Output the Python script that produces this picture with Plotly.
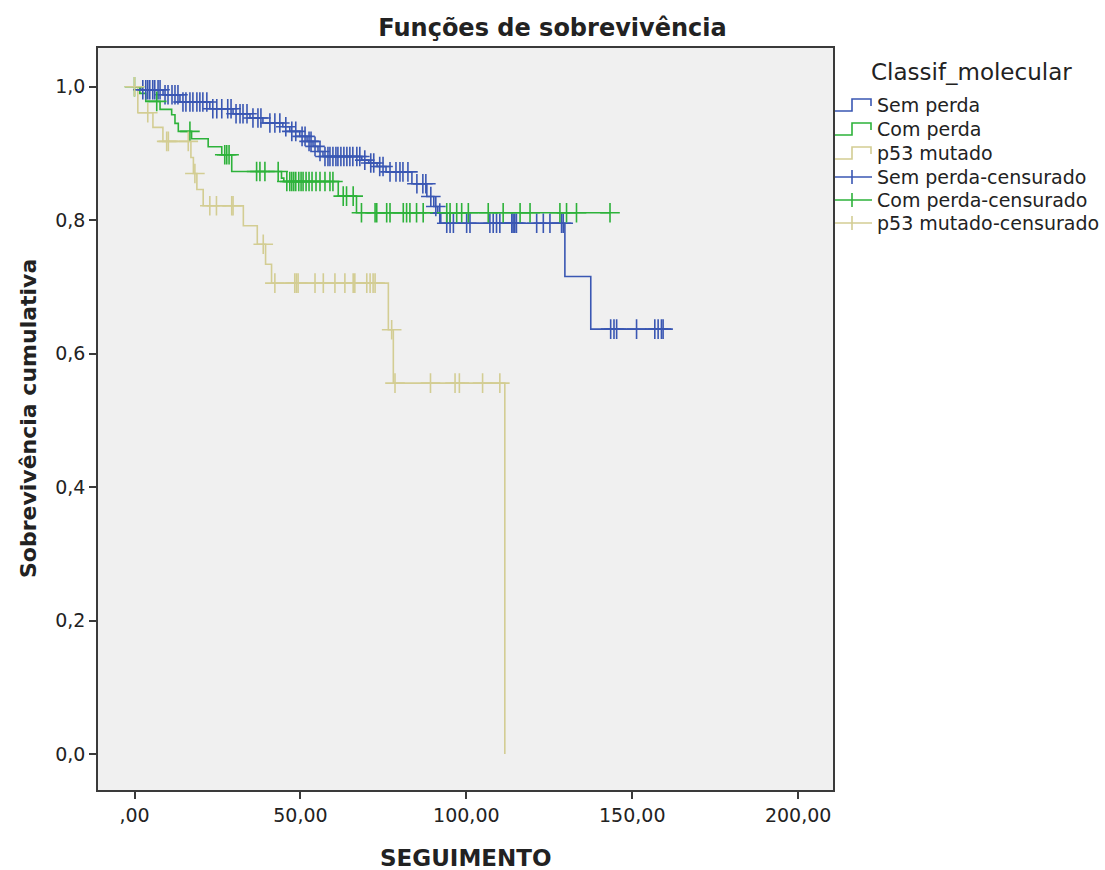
import numpy as np
import plotly.graph_objects as go

# ---------------- data ----------------
groups = ["Sem perda", "Com perda", "p53 mutado"]
colors = ["#3A57B3", "#2DB23A", "#D3CD93"]

# Sem perda
sem_event_times = [1.9, 8.6, 13.7, 22.7, 29.7, 34.8, 38.7, 44.7, 46.8, 49.8, 52.0, 53.8,
                   55.3, 56.8, 68.5, 70.6, 73.1, 75.8, 83.6, 88.1, 90.2, 91.4, 92.3,
                   129.7, 137.5]
sem_surv = [0.9955, 0.988, 0.977, 0.967, 0.9595, 0.953, 0.9456, 0.940, 0.933, 0.9255,
            0.918, 0.9105, 0.903, 0.8955, 0.890, 0.8856, 0.8805, 0.8724, 0.8545, 0.8355,
            0.8205, 0.8106, 0.7954, 0.7156, 0.6367]
sem_censored = [2.5, 3.4, 4.0, 4.6, 5.5, 6.1, 7.1, 7.7, 9.2, 10.1, 11.3, 12.2, 13.1,
                14.6, 15.5, 16.7, 17.6, 18.8, 19.7, 20.6, 21.8, 23.6, 24.8, 26.3, 28.1,
                29.1, 30.6, 31.8, 32.7, 33.9, 35.7, 37.2, 38.1, 40.8, 42.3, 43.8, 45.6,
                47.4, 48.6, 50.5, 51.4, 52.6, 53.2, 54.4, 55.9, 57.4, 58.3, 58.9, 59.8,
                60.7, 61.3, 62.2, 63.1, 64.0, 64.9, 65.8, 67.0, 67.9, 69.4, 71.2, 72.1,
                73.9, 74.9, 77.0, 78.8, 80.0, 80.9, 82.4, 85.1, 86.9, 87.8, 89.3, 90.8,
                92.0, 94.1, 95.1, 96.1, 100.1, 101.1, 107.1, 108.1, 109.1, 110.1, 113.7,
                114.1, 114.6, 115.1, 121.2, 123.2, 125.2, 128.7, 129.2, 143.5, 144.5,
                145.3, 151.3, 156.8, 157.8, 158.8, 159.3]

# Com perda
com_event_times = [1.6, 3.4, 7.7, 11.2, 12.2, 13.2, 17.2, 22.2, 26.3, 29.3, 44.3, 45.0,
                   61.4, 66.9]
com_surv = [0.990, 0.978, 0.966, 0.958, 0.945, 0.933, 0.922, 0.910, 0.898, 0.873, 0.863,
            0.858, 0.836, 0.811]
com_censored = [0.0, 6.7, 16.7, 27.2, 27.8, 28.5, 36.8, 37.8, 39.3, 43.3, 45.9, 46.8, 47.4,
                48.0, 48.6, 49.5, 50.2, 50.8, 51.7, 52.6, 53.5, 54.7, 55.9, 57.4, 58.9,
                59.8, 62.9, 63.9, 65.9, 68.4, 72.5, 73.0, 76.0, 77.0, 81.0, 82.0, 83.0,
                85.0, 87.0, 94.1, 95.1, 97.1, 98.6, 100.6, 106.6, 111.1, 116.2, 119.2,
                128.2, 130.2, 133.2, 143.3]

# p53 mutado
p53_event_times = [1.0, 5.55, 8.56, 17.0, 17.75, 18.8, 20.7, 32.8, 37.0, 39.5, 41.3,
                   76.5, 78.0, 111.6]
p53_surv = [0.961, 0.939, 0.918, 0.894, 0.870, 0.846, 0.8216, 0.7916, 0.764, 0.734,
            0.7057, 0.6357, 0.5558, 0.0]
p53_censored = [0.0, 4.0, 9.7, 10.2, 16.2, 18.2, 22.7, 24.7, 29.3, 29.7, 38.8, 42.3, 48.3,
                48.8, 49.3, 54.4, 56.9, 60.4, 63.4, 65.9, 66.4, 70.0, 71.0, 71.9, 72.5,
                77.5, 78.5, 89.2, 96.6, 97.9, 104.9, 110.1]

x_tickvals = [0, 50, 100, 150, 200]
x_ticktext = [",00", "50,00", "100,00", "150,00", "200,00"]
y_tickvals = [0.0, 0.2, 0.4, 0.6, 0.8, 1.0]
y_ticktext = ["0,0", "0,2", "0,4", "0,6", "0,8", "1,0"]

legend_title = "Classif_molecular"
legend_labels = groups + [g + "-censurado" for g in groups]

series = [
    (sem_event_times, sem_surv, sem_censored),
    (com_event_times, com_surv, com_censored),
    (p53_event_times, p53_surv, p53_censored),
]

# ---------------- layout geometry (pixels) ----------------
W, H = 1105, 870
ML, MR, MT, MB = 98, 272, 48, 80
PW, PH = W - ML - MR, H - MT - MB

def px_x(px):
    return (px - ML) / PW

def px_y(py):
    return (H - MB - py) / PH

FONT = "DejaVu Sans"
TXT = "#222222"
LW = 1.6
MW = 1.6
MS = 14

def km_level(times, surv, t):
    idx = np.searchsorted(np.asarray(times), t, side="right")
    return 1.0 if idx == 0 else surv[idx - 1]

fig = go.Figure()

# step lines
for name, col, (et, sv, cs) in zip(groups, colors, series):
    end = max(max(et), max(cs))
    xs = [0.0] + list(et)
    ys = [1.0] + list(sv)
    if end > et[-1]:
        xs.append(end)
        ys.append(sv[-1])
    fig.add_trace(go.Scatter(
        x=xs, y=ys, mode="lines", name=name, showlegend=False,
        line=dict(color=col, width=LW, shape="hv"), hoverinfo="skip",
    ))

# censored marks
for name, col, (et, sv, cs) in zip(groups, colors, series):
    cy = [km_level(et, sv, t) for t in cs]
    fig.add_trace(go.Scatter(
        x=cs, y=cy, mode="markers", name=name + "-censurado", showlegend=False,
        marker=dict(symbol="cross-thin", size=MS, color=col, line=dict(color=col, width=MW)),
        hoverinfo="skip",
    ))

# ---------------- custom legend ----------------
shapes = []
annotations = []
annotations.append(dict(
    text=legend_title, x=px_x(971), y=px_y(72), xref="paper", yref="paper",
    xanchor="center", yanchor="middle", showarrow=False,
    font=dict(size=23, family=FONT, color=TXT)))
row_y = [105, 129, 153, 177, 200, 223]
for i, label in enumerate(legend_labels):
    yc = row_y[i]
    col = colors[i % 3]
    annotations.append(dict(
        text=label, x=px_x(875), y=px_y(yc), xref="paper", yref="paper",
        xanchor="left", yanchor="middle", showarrow=False,
        font=dict(size=19, family=FONT, color=TXT)))
    if i < 3:
        x0, xm, x1 = 835, 852, 871
        ylo, yhi = yc + 6, yc - 6
        path = (f"M {px_x(x0)},{px_y(ylo)} L {px_x(xm)},{px_y(ylo)} "
                f"L {px_x(xm)},{px_y(yhi)} L {px_x(x1)},{px_y(yhi)} "
                f"L {px_x(x1)},{px_y(yc + 1)}")
        shapes.append(dict(type="path", path=path, xref="paper", yref="paper",
                           line=dict(color=col, width=LW)))
    else:
        shapes.append(dict(type="line", x0=px_x(835), x1=px_x(872), y0=px_y(yc),
                           y1=px_y(yc), xref="paper", yref="paper",
                           line=dict(color=col, width=LW)))
        shapes.append(dict(type="line", x0=px_x(852), x1=px_x(852), y0=px_y(yc - 7),
                           y1=px_y(yc + 7), xref="paper", yref="paper",
                           line=dict(color=col, width=LW)))

annotations += [
    dict(text="<b>SEGUIMENTO</b>", x=0.5, xref="paper", y=0, yref="paper",
         yshift=-68, xanchor="center", yanchor="middle", showarrow=False,
         font=dict(size=23, family=FONT, color=TXT)),
    dict(text="<b>Sobrevivência cumulativa</b>", x=0, xref="paper", y=0.5,
         yref="paper", xshift=-70, xanchor="center", yanchor="middle",
         textangle=-90, showarrow=False,
         font=dict(size=22, family=FONT, color=TXT)),
]

fig.update_layout(
    width=W, height=H,
    margin=dict(l=ML, r=MR, t=MT, b=MB),
    paper_bgcolor="white",
    plot_bgcolor="#F0F0F0",
    font=dict(family=FONT, color=TXT),
    title=dict(text="<b>Funções de sobrevivência</b>", x=0.5, xref="container",
               xanchor="center", y=1 - 28 / H, yref="container", yanchor="middle",
               font=dict(size=24, family=FONT, color=TXT)),
    showlegend=False,
    xaxis=dict(
        range=[-11, 210.5], tickvals=x_tickvals, ticktext=x_ticktext,
        showgrid=False, zeroline=False, showline=True, mirror=True,
        linecolor="#3a3a3a", linewidth=1.5, ticks="outside", ticklen=7,
        tickcolor="#3a3a3a", tickwidth=1.5,
        tickfont=dict(size=19, family=FONT, color=TXT),
    ),
    yaxis=dict(
        range=[-0.054, 1.058], tickvals=y_tickvals, ticktext=y_ticktext,
        showgrid=False, zeroline=False, showline=True, mirror=True,
        linecolor="#3a3a3a", linewidth=1.5, ticks="outside", ticklen=7,
        tickcolor="#3a3a3a", tickwidth=1.5,
        tickfont=dict(size=19, family=FONT, color=TXT),
    ),
    shapes=shapes,
    annotations=annotations,
)

fig.write_html("out.html")
